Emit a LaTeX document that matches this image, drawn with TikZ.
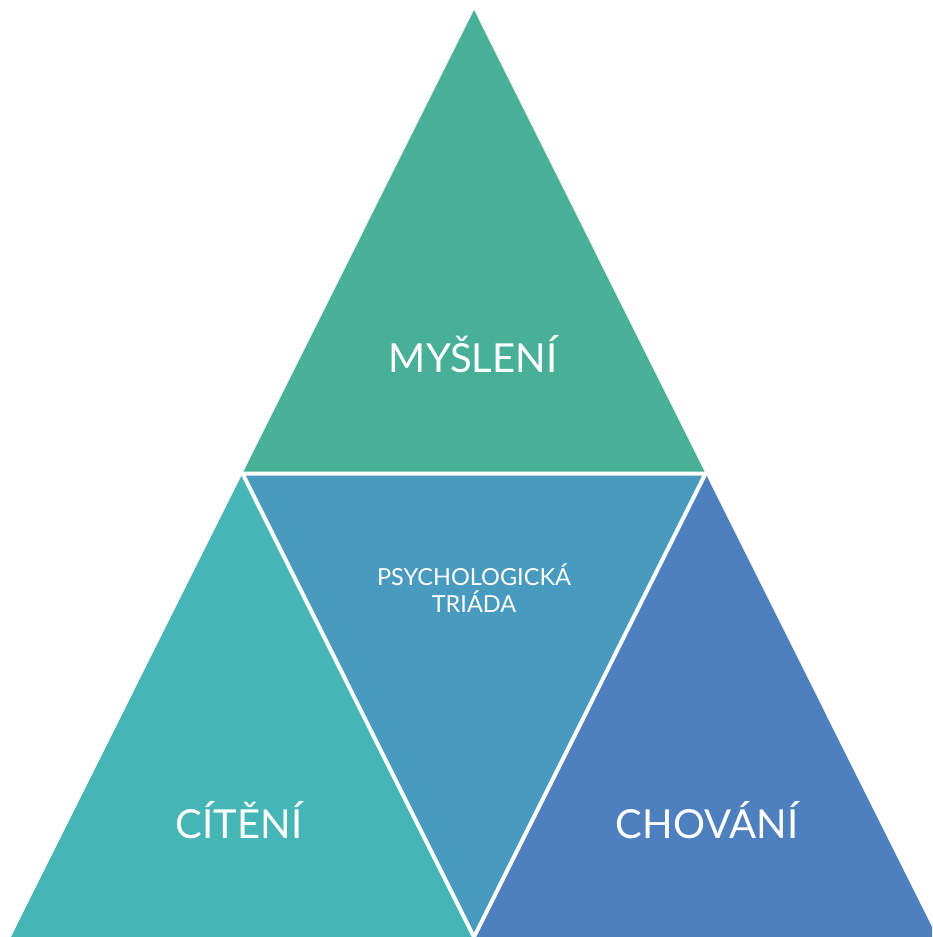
\documentclass[tikz,border=0pt]{standalone}
\usepackage{fontspec}
\setmainfont{Lato}
\definecolor{cTop}{RGB}{72,176,151}
\definecolor{cLeft}{RGB}{69,181,181}
\definecolor{cMid}{RGB}{72,154,190}
\definecolor{cRight}{RGB}{78,128,192}
\begin{document}
\begin{tikzpicture}[x=1pt,y=-1pt,
  gap/.style={draw=white,line width=4pt},
  big/.style={text=white,font=\fontsize{40}{48}\selectfont,inner sep=0pt},
  small/.style={text=white,font=\fontsize{23.5}{27}\selectfont,align=center,inner sep=0pt}]
\useasboundingbox (0,0) rectangle (932,937);
\coordinate (A) at (474,10);
\coordinate (L) at (11,937);
\coordinate (R) at (937,937);
\coordinate (ML) at (242.5,473.5);
\coordinate (MR) at (705.5,473.5);
\coordinate (MB) at (474,937);
\begin{scope}
\clip (0,0) rectangle (932,937);
\fill[cTop] (A) -- (ML) -- (MR) -- cycle;
\fill[cLeft] (ML) -- (L) -- (MB) -- cycle;
\fill[cMid] (ML) -- (MR) -- (MB) -- cycle;
\fill[cRight] (MR) -- (MB) -- (R) -- cycle;
\draw[gap] (ML) -- (MR) -- (MB) -- cycle;
\end{scope}
\node[big] (t1) at (473,354) {MYŠLENÍ};
\node[big] (t2) at (239,820) {CÍTĚNÍ};
\node[big] (t3) at (707,820) {CHOVÁNÍ};
\node[small] (t4) at (474,588) {PSYCHOLOGICKÁ\\TRIÁDA};
\end{tikzpicture}
\end{document}
